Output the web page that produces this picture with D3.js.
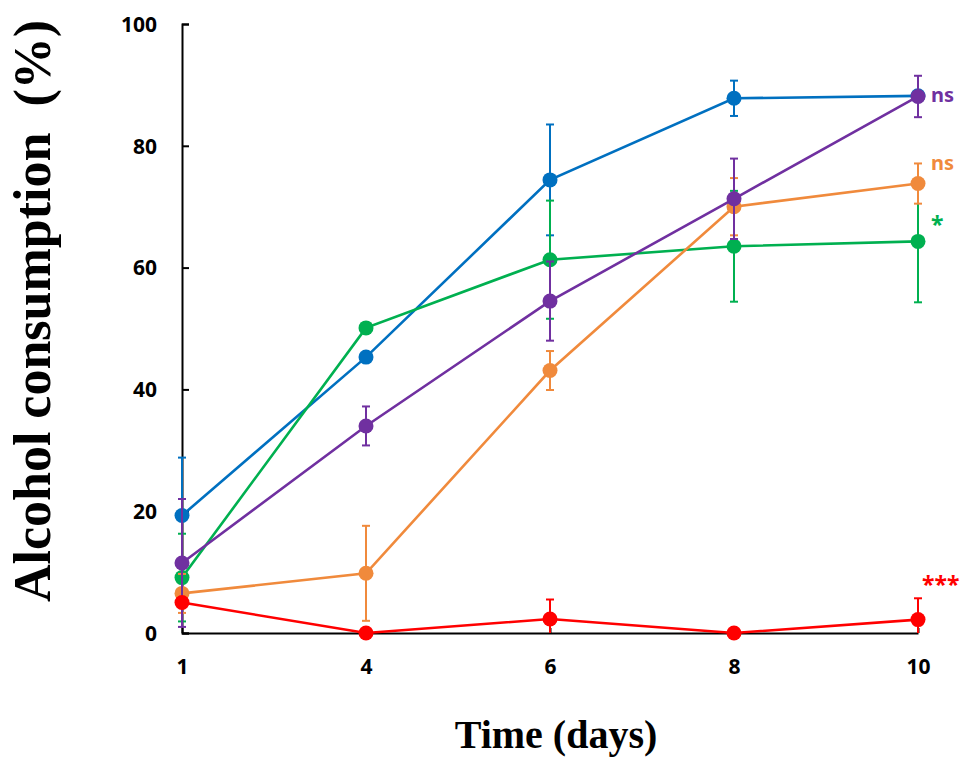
<!DOCTYPE html>
<head>
  <meta charset="utf-8">
  <script src="https://d3js.org/d3.v7.min.js"></script>
  <style>
    body { margin:0; background:#fff; }
    svg { display:block; }
  </style>
</head>
<body>
<script type="text/javascript">
  // x categories (days)
  var days = [1, 4, 6, 8, 10];

  // series means (%) and SD
  var blueVals   = [19.3, 45.3, 74.4, 87.8, 88.2];
  var blueSd     = [9.5, 0.8, 9.1, 2.9, 0.5];
  var greenVals  = [9.1, 50.1, 61.3, 63.5, 64.3];
  var greenSd    = [7.2, 0.5, 9.7, 9.1, 10.0];
  var orangeVals = [6.5, 9.8, 43.1, 70.0, 73.8];
  var orangeSd   = [3.2, 7.8, 3.2, 4.7, 3.3];
  var purpleVals = [11.5, 34.0, 54.5, 71.3, 88.1];
  var purpleSd   = [10.5, 3.2, 6.5, 6.6, 3.4];
  var redVals    = [5.0, 0, 2.3, 0, 2.2];
  var redSd      = [0, 0, 3.2, 0, 3.5];

  var yTicks = [0, 20, 40, 60, 80, 100];

  // significance labels at day 10
  var sigLabels = ["ns", "ns", "*", "***"];
  var sigValues = [88.1, 73.8, 64.3, 2.2];

  var series = [
    {vals: blueVals, sd: blueSd, color: "#0070C0"},
    {vals: greenVals, sd: greenSd, color: "#00B050"},
    {vals: orangeVals, sd: orangeSd, color: "#F08A3C"},
    {vals: purpleVals, sd: purpleSd, color: "#7030A0"},
    {vals: redVals, sd: redSd, color: "#FF0000"}
  ];
  var sigColors = ["#7030A0", "#F08A3C", "#00B050", "#FF0000"];

  var width = 975, height = 768;
  var svg = d3.select("body").append("svg")
    .attr("width", width).attr("height", height);

  var x = d3.scalePoint().domain(days).range([182, 918]);
  var y = d3.scaleLinear().domain([0, 100]).range([633, 24]);

  // axes: ticks point inward
  var yAxis = d3.axisLeft(y).tickValues(yTicks).tickSizeInner(-7).tickSizeOuter(-7).tickPadding(25);
  var gy = svg.append("g").attr("transform", "translate(" + x(1) + ",0)").call(yAxis);

  var xAxis = d3.axisBottom(x).tickSizeInner(-5).tickSizeOuter(0).tickPadding(26);
  var gx = svg.append("g").attr("transform", "translate(0," + y(0) + ")").call(xAxis);

  svg.selectAll(".domain").attr("stroke", "#000").attr("stroke-width", 2);
  svg.selectAll(".tick line").attr("stroke", "#000").attr("stroke-width", 2);
  svg.selectAll(".tick text")
    .attr("font-family", "'Noto Sans', 'DejaVu Sans', sans-serif")
    .attr("font-weight", "bold")
    .attr("font-size", 21)
    .attr("fill", "#000");
  gy.selectAll(".tick text").attr("dy", "0.35em");

  // series
  series.forEach(function(s) {
    var pts = days.map(function(d, i) { return {d: d, v: s.vals[i], sd: s.sd[i]}; });
    var g = svg.append("g");

    // error bars
    var eb = g.selectAll(".eb").data(pts.filter(function(p) { return p.sd > 0; }))
      .enter().append("g");
    eb.append("line")
      .attr("x1", function(p) { return x(p.d); })
      .attr("x2", function(p) { return x(p.d); })
      .attr("y1", function(p) { return y(Math.max(0, p.v - p.sd)); })
      .attr("y2", function(p) { return y(p.v + p.sd); })
      .attr("stroke", s.color).attr("stroke-width", 2);
    eb.append("line")
      .attr("x1", function(p) { return x(p.d) - 4; })
      .attr("x2", function(p) { return x(p.d) + 4; })
      .attr("y1", function(p) { return y(p.v + p.sd); })
      .attr("y2", function(p) { return y(p.v + p.sd); })
      .attr("stroke", s.color).attr("stroke-width", 2);
    eb.filter(function(p) { return p.v - p.sd > 0; }).append("line")
      .attr("x1", function(p) { return x(p.d) - 4; })
      .attr("x2", function(p) { return x(p.d) + 4; })
      .attr("y1", function(p) { return y(p.v - p.sd); })
      .attr("y2", function(p) { return y(p.v - p.sd); })
      .attr("stroke", s.color).attr("stroke-width", 2);

    var line = d3.line().x(function(p) { return x(p.d); }).y(function(p) { return y(p.v); });
    g.append("path").datum(pts)
      .attr("d", line)
      .attr("fill", "none")
      .attr("stroke", s.color)
      .attr("stroke-width", 2.6);

    g.selectAll("circle").data(pts).enter().append("circle")
      .attr("cx", function(p) { return x(p.d); })
      .attr("cy", function(p) { return y(p.v); })
      .attr("r", 7.5)
      .attr("fill", s.color);
  });

  // significance marks
  svg.selectAll(".sig").data(sigLabels).enter().append("text")
    .attr("x", function(d, i) { return i == 3 ? x(10) + 4 : x(10) + 13; })
    .attr("y", function(d, i) {
      var off = [6, -14, -8, -27];
      return y(sigValues[i]) + off[i];
    })
    .attr("font-family", "'Noto Sans', 'DejaVu Sans', sans-serif")
    .attr("font-weight", "bold")
    .attr("font-size", function(d) { return d == "ns" ? 20 : 23; })
    .attr("fill", function(d, i) { return sigColors[i]; })
    .text(function(d) { return d; });

  // axis titles
  svg.append("text")
    .attr("transform", "translate(50,311) rotate(-90)")
    .attr("text-anchor", "middle")
    .attr("font-family", "'Liberation Serif', 'Times New Roman', serif")
    .attr("font-weight", "bold")
    .attr("font-size", 52)
    .style("white-space", "pre")
    .text("Alcohol consumption  (%)");

  svg.append("text")
    .attr("x", 556)
    .attr("y", 748)
    .attr("text-anchor", "middle")
    .attr("font-family", "'Liberation Serif', 'Times New Roman', serif")
    .attr("font-weight", "bold")
    .attr("font-size", 40)
    .text("Time (days)");
</script>
</body>
